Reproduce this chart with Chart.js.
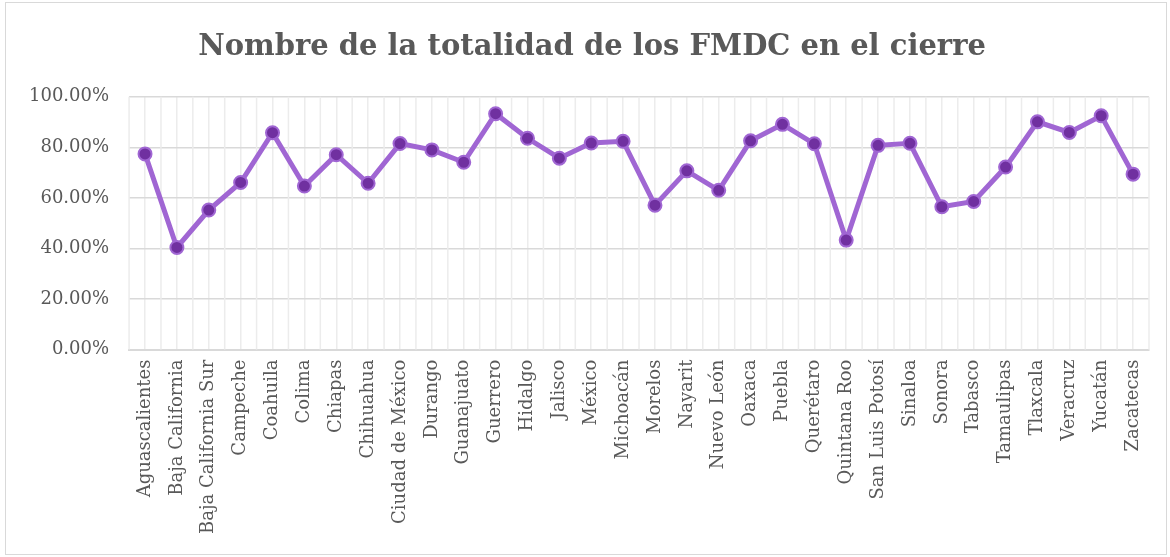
<!DOCTYPE html>
<html>
<head>
<meta charset="utf-8">
<script src="https://cdn.jsdelivr.net/npm/chart.js@4"></script>
<style>
  html, body { margin: 0; padding: 0; background: #fff; }
  #wrap { position: absolute; left: 5px; top: 2px; width: 1162px; height: 553px; border: 1px solid #d9d9d9; box-sizing: border-box; }
  canvas { display: block; }
</style>
</head>
<body>
<div id="wrap"><canvas id="chart"></canvas></div>
<script>
// estados
const states = ['Aguascalientes', 'Baja California', 'Baja California Sur', 'Campeche', 'Coahuila',
    'Colima', 'Chiapas', 'Chihuahua', 'Ciudad de México', 'Durango', 'Guanajuato', 'Guerrero',
    'Hidalgo', 'Jalisco', 'México', 'Michoacán', 'Morelos', 'Nayarit', 'Nuevo León', 'Oaxaca',
    'Puebla', 'Querétaro', 'Quintana Roo', 'San Luis Potosí', 'Sinaloa', 'Sonora', 'Tabasco',
    'Tamaulipas', 'Tlaxcala', 'Veracruz', 'Yucatán', 'Zacatecas'];

// porcentaje de FMDC en el cierre
const pct = [77.4, 40.4, 55.2, 66.1, 85.8, 64.7, 77.1, 65.8, 81.5, 79.0, 74.1, 93.3,
    83.6, 75.7, 81.7, 82.4, 57.1, 70.7, 63.0, 82.6, 89.1, 81.4, 43.3, 80.8, 81.6, 56.5,
    58.6, 72.2, 90.1, 85.9, 92.5, 69.4];

const yTicks = [0, 20, 40, 60, 80, 100];

const chartTitle = 'Nombre de la totalidad de los FMDC en el cierre';

const serif = '"DejaVu Serif", Georgia, serif';
const textColour = '#595959';

// extra vertical lines between categories (Excel style)
const midGrid = {
    id: 'midGrid',
    beforeDatasetsDraw(chart) {
        const x = chart.scales.x, area = chart.chartArea, ctx = chart.ctx;
        const half = (x.getPixelForTick(1) - x.getPixelForTick(0)) / 2;
        ctx.save();
        ctx.strokeStyle = '#ececec';
        ctx.lineWidth = 1.5;
        for (let i = 0; i <= states.length; i++) {
            const px = x.getPixelForTick(Math.min(i, states.length - 1)) + (i === states.length ? half : -half);
            ctx.beginPath();
            ctx.moveTo(px, area.top);
            ctx.lineTo(px, area.bottom);
            ctx.stroke();
        }
        ctx.restore();
    }
};

// nudge the title a bit to the right, like the original
const titleShift = {
    id: 'titleShift',
    afterLayout(chart) {
        if (chart.titleBlock) {
            chart.titleBlock.left += 13;
            chart.titleBlock.right += 13;
        }
    }
};

new Chart(document.getElementById('chart'), {
    type: 'line',
    data: {
        labels: states,
        datasets: [{
            data: pct,
            borderColor: '#a066d3',
            borderWidth: 5,
            pointRadius: 6.5,
            pointBackgroundColor: '#7030a0',
            pointBorderColor: '#a066d3',
            pointBorderWidth: 2,
            tension: 0,
        }]
    },
    options: {
        responsive: true,
        maintainAspectRatio: false,
        animation: false,
        layout: { padding: { left: 3, right: 17, top: 12, bottom: 10 } },
        plugins: {
            legend: { display: false },
            tooltip: { enabled: false },
            title: {
                display: true,
                text: chartTitle,
                color: textColour,
                font: { family: serif, size: 29, weight: 'bold' },
                padding: { top: 15, bottom: 32 },
            },
        },
        scales: {
            x: {
                offset: true,
                grid: { color: '#ececec', lineWidth: 1.5, drawTicks: false, offset: false },
                border: { color: '#d9d9d9', width: 2 },
                ticks: {
                    color: textColour,
                    font: { family: serif, size: 18 },
                    maxRotation: 90,
                    minRotation: 90,
                    autoSkip: false,
                    padding: 10,
                },
            },
            y: {
                min: 0,
                max: 100,
                afterBuildTicks(axis) { axis.ticks = yTicks.map(v => ({ value: v })); },
                grid: { color: '#d9d9d9', lineWidth: 1.5, drawTicks: false },
                border: { display: false },
                ticks: {
                    color: textColour,
                    font: { family: serif, size: 18 },
                    padding: 20,
                    callback: v => v.toFixed(2) + '%',
                },
            },
        },
    },
    plugins: [midGrid, titleShift],
});
</script>
</body>
</html>
